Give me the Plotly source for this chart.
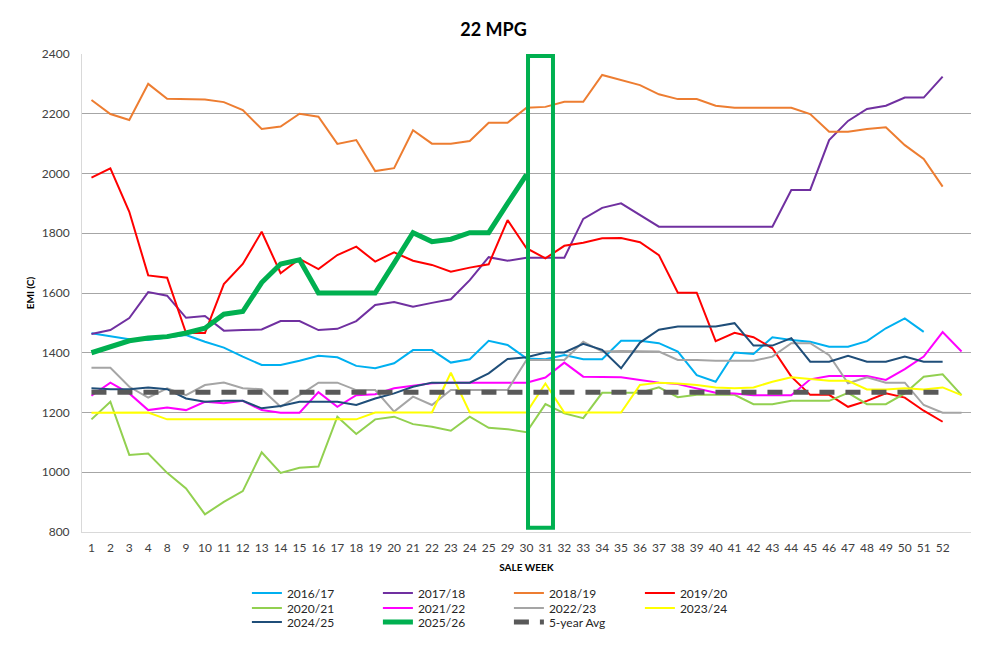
import plotly.graph_objects as go

weeks = ["1", "2", "3", "4", "8", "9", "10", "11", "12", "13", "14", "15", "16", "17", "18",
         "19", "20", "21", "22", "23", "24", "25", "29", "30", "31", "32", "33", "34", "35",
         "36", "37", "38", "39", "40", "41", "42", "43", "44", "45", "46", "47", "48", "49",
         "50", "51", "52", ""]

s1617 = [1465, 1456, 1445, 1443, 1452, 1459, 1437, 1417, 1387, 1359, 1359, 1373, 1390, 1385, 1356,
         1348, 1365, 1409, 1409, 1367, 1378, 1440, 1426, 1381, 1378, 1392, 1378, 1378, 1440, 1440,
         1432, 1404, 1325, 1303, 1401, 1396, 1452, 1443, 1437, 1420, 1420, 1439, 1482, 1515, 1470,
         None, None]
s1718 = [1463, 1476, 1516, 1603, 1591, 1517, 1523, 1474, 1476, 1478, 1506, 1506, 1476, 1480, 1506,
         1560, 1570, 1554, 1567, 1579, 1643, 1720, 1708, 1718, 1718, 1718, 1848, 1885, 1900, 1861,
         1822, 1822, 1822, 1822, 1822, 1822, 1822, 1945, 1945, 2112, 2176, 2216, 2227, 2254, 2254,
         2324, None]
s1819 = [2246, 2199, 2179, 2300, 2250, 2250, 2248, 2239, 2212, 2149, 2157, 2200, 2190, 2099, 2112,
         2008, 2018, 2145, 2100, 2100, 2109, 2170, 2170, 2220, 2223, 2240, 2240, 2330, 2313, 2296,
         2265, 2249, 2249, 2227, 2220, 2220, 2220, 2220, 2199, 2140, 2140, 2149, 2155, 2095, 2049,
         1956, None]
s1920 = [1986, 2017, 1872, 1659, 1651, 1466, 1466, 1630, 1697, 1805, 1666, 1714, 1680, 1727, 1755,
         1705, 1736, 1708, 1694, 1671, 1685, 1696, 1844, 1750, 1716, 1758, 1768, 1783, 1784, 1770,
         1727, 1601, 1601, 1439, 1467, 1452, 1415, 1320, 1259, 1259, 1219, 1239, 1264, 1250, 1206,
         1169, None]
s2021 = [1177, 1236, 1058, 1063, 998, 946, 859, 901, 937, 1067, 998, 1015, 1019, 1186, 1128,
         1177, 1186, 1161, 1152, 1139, 1186, 1149, 1144, 1134, 1228, 1197, 1181, 1266, 1266, 1266,
         1284, 1251, 1259, 1259, 1259, 1228, 1228, 1239, 1239, 1239, 1266, 1228, 1228, 1264, 1320,
         1328, 1258]
s2122 = [1256, 1300, 1264, 1208, 1217, 1208, 1236, 1231, 1239, 1208, 1199, 1199, 1268, 1219, 1258,
         1261, 1281, 1289, 1298, 1300, 1300, 1300, 1300, 1300, 1317, 1367, 1320, 1320, 1318, 1309,
         1300, 1295, 1281, 1266, 1264, 1258, 1258, 1258, 1311, 1322, 1322, 1322, 1309, 1345, 1387,
         1469, 1404]
s2223 = [1350, 1350, 1286, 1250, 1281, 1258, 1292, 1300, 1281, 1278, 1219, 1258, 1300, 1300, 1275,
         1275, 1203, 1253, 1225, 1275, 1275, 1275, 1275, 1376, 1376, 1376, 1437, 1404, 1406, 1406,
         1404, 1376, 1376, 1373, 1373, 1373, 1387, 1432, 1432, 1392, 1298, 1318, 1300, 1300, 1225,
         1199, 1199]
s2324 = [1199, 1200, 1200, 1200, 1177, 1177, 1177, 1177, 1177, 1177, 1177, 1177, 1177, 1177, 1177,
         1200, 1200, 1200, 1200, 1333, 1200, 1200, 1200, 1200, 1297, 1200, 1200, 1200, 1200, 1292,
         1300, 1297, 1292, 1284, 1281, 1284, 1303, 1318, 1312, 1306, 1306, 1277, 1277, 1281, 1277,
         1284, 1258]
s2425 = [1281, 1278, 1278, 1284, 1278, 1247, 1236, 1239, 1239, 1214, 1222, 1236, 1236, 1236, 1225,
         1247, 1264, 1286, 1300, 1300, 1300, 1331, 1379, 1385, 1401, 1401, 1430, 1410, 1348, 1434,
         1477, 1488, 1488, 1488, 1499, 1424, 1424, 1449, 1370, 1370, 1390, 1370, 1370, 1387, 1370,
         1370, None]
s2526 = [1400, 1422, 1440, 1449, 1454, 1466, 1482, 1529, 1538, 1635, 1697, 1711, 1600, 1600, 1600,
         1600, 1700, 1802, 1772, 1780, 1802, 1802, 1900, 1996] + [None] * 23
avg5 = [1268] * 46 + [None]

y_ticks = [800, 1000, 1200, 1400, 1600, 1800, 2000, 2200, 2400]
highlight_weeks = (23.08, 24.4)   # x-index span of the highlighted box
highlight_vals = (814, 2393)

series = [
    ("2016/17", s1617, "#00B0F0", 2, None, "legend"),
    ("2017/18", s1718, "#7030A0", 2, None, "legend"),
    ("2018/19", s1819, "#ED7D31", 2, None, "legend"),
    ("2019/20", s1920, "#FF0000", 2, None, "legend"),
    ("2020/21", s2021, "#92D050", 2, None, "legend2"),
    ("2021/22", s2122, "#FF00FF", 2, None, "legend2"),
    ("2022/23", s2223, "#A5A5A5", 2, None, "legend2"),
    ("2023/24", s2324, "#FFFF00", 2, None, "legend2"),
    ("2024/25", s2425, "#1F4E79", 2, None, "legend3"),
    ("2025/26", s2526, "#00B050", 5, None, "legend3"),
    ("5-year Avg", avg5, "#595959", 5, "15px,11px", "legend3"),
]

xs = list(range(len(weeks)))
fig = go.Figure()
for name, vals, color, width, dash, leg in series:
    line = dict(color=color, width=width)
    if dash:
        line["dash"] = dash
    fig.add_trace(go.Scatter(x=xs, y=vals, name=name, mode="lines", line=line,
                             legend=leg, connectgaps=False))

fig.add_shape(type="rect", xref="x", yref="y",
              x0=highlight_weeks[0], x1=highlight_weeks[1],
              y0=highlight_vals[0], y1=highlight_vals[1],
              line=dict(color="#00B050", width=4), fillcolor="rgba(0,0,0,0)")

FONT = "Lato, 'Liberation Sans', Arial, sans-serif"
leg_common = dict(orientation="h", xref="paper", yref="paper", xanchor="left", yanchor="middle",
                  entrywidth=86, entrywidthmode="pixels", font=dict(size=12, color="#262626"),
                  bgcolor="rgba(0,0,0,0)", tracegroupgap=0, itemwidth=30)
lx = 0.1855
fig.update_layout(
    width=987, height=648,
    margin=dict(l=82, r=16, t=54, b=116, autoexpand=False),
    paper_bgcolor="white", plot_bgcolor="white",
    font=dict(family=FONT, size=12, color="#404040"),
    title=dict(text="<b>22 MPG</b>", x=0.5, xref="container", y=1 - 30 / 648,
               yanchor="middle", xanchor="center", font=dict(size=18, color="#000000")),
    showlegend=True,
    legend=dict(x=lx, y=-0.1276, **leg_common),
    legend2=dict(x=lx, y=-0.1590, **leg_common),
    legend3=dict(x=lx, y=-0.1883, **leg_common),
    xaxis=dict(range=[-0.5, len(weeks) - 0.5], tickmode="array", tickvals=xs[:-1],
               ticktext=weeks[:-1], showgrid=False, showline=True, linecolor="#D9D9D9",
               linewidth=1, ticks="", tickfont=dict(size=12, color="#404040"),
               ticklabelstandoff=5, automargin=False,
               title=dict(text="<b>SALE WEEK</b>", font=dict(size=10, color="#000000"), standoff=9),
               zeroline=False),
    yaxis=dict(range=[800, 2400], tickmode="array", tickvals=y_ticks,
               ticktext=[str(v) for v in y_ticks], showgrid=True, gridcolor="#A6A6A6",
               gridwidth=1, showline=True, linecolor="#D9D9D9", linewidth=1, ticks="",
               tickfont=dict(size=12, color="#404040"), ticklabelstandoff=9, automargin=False,
               title=dict(text="<b>EMI (C)</b>", font=dict(size=10, color="#000000"), standoff=5),
               zeroline=False),
)
fig.write_html("out.html", config={"displayModeBar": False},
               post_script="document.body.style.margin='0';")
